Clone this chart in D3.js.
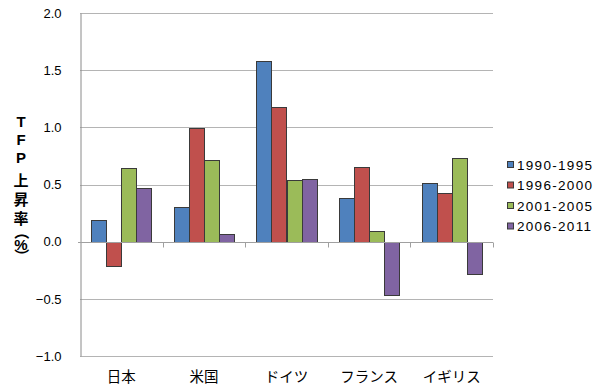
<!DOCTYPE html>
<html><head><meta charset="utf-8">
<script src="https://cdn.jsdelivr.net/npm/d3@7"></script>
<style>
html,body{margin:0;padding:0;background:#fff;}
svg{display:block;}
text{font-family:"Liberation Sans","Noto Sans CJK JP",Arial,sans-serif;fill:#000;}
</style></head>
<body><svg id="chart" width="600" height="392"></svg>
<script>
const categories = ["日本", "米国", "ドイツ", "フランス", "イギリス"];
const seriesNames = ["1990-1995", "1996-2000", "2001-2005", "2006-2011"];
const s1990 = [0.19, 0.30, 1.58, 0.38, 0.51];
const s1996 = [-0.21, 0.99, 1.18, 0.65, 0.43];
const s2001 = [0.64, 0.71, 0.54, 0.09, 0.73];
const s2006 = [0.47, 0.07, 0.55, -0.47, -0.28];
const yTicks = [-1.0, -0.5, 0.0, 0.5, 1.0, 1.5, 2.0];
const yTitle = "TFP上昇率（%）";
const colors = ["#4F81BD", "#C0504D", "#9BBB59", "#8064A2"];

const series = [s1990, s1996, s2001, s2006];
const svg = d3.select("#chart");
const L = 80, R = 493, T = 13, B = 356;

const y = d3.scaleLinear().domain([-1, 2]).range([B, T]);
const x0 = d3.scaleBand().domain(categories).range([L, R]).padding(0);
const x1 = d3.scaleBand().domain(d3.range(seriesNames.length))
  .range([0, x0.bandwidth()]).paddingInner(0).paddingOuter(0.75);

// gridlines
svg.append("g").selectAll("line").data(yTicks).join("line")
  .attr("x1", L).attr("x2", R)
  .attr("y1", d => Math.round(y(d)) + 0.5).attr("y2", d => Math.round(y(d)) + 0.5)
  .attr("stroke", "#b4b4b4").attr("stroke-width", 1);

// y axis
const yAxis = d3.axisLeft(y).tickValues(yTicks).tickFormat(d3.format(".1f")).tickSize(0).tickPadding(19);
const gy = svg.append("g").attr("transform", `translate(${L + 0.5},0)`).call(yAxis);
gy.select(".domain").attr("stroke", "#8a8a8a");
gy.selectAll("text").style("font-size", "13px").attr("fill", "#000");

// bars
const g = svg.append("g");
categories.forEach((c, i) => {
  series.forEach((s, j) => {
    const v = s[i];
    g.append("rect")
      .attr("x", Math.round(x0(c) + x1(j)) + 0.5)
      .attr("y", Math.round(y(Math.max(0, v))) + 0.5)
      .attr("width", Math.round(x1.bandwidth()))
      .attr("height", Math.abs(Math.round(y(v)) - Math.round(y(0))))
      .attr("fill", colors[j])
      .attr("stroke", "#3a3a3a").attr("stroke-width", 1);
  });
});

// zero axis with ticks
const y0 = Math.round(y(0)) + 0.5;
svg.append("line").attr("x1", L - 2).attr("x2", R).attr("y1", y0).attr("y2", y0)
  .attr("stroke", "#a0a0a0");
const bounds = categories.map(c => x0(c)).concat([R]).slice(1);
svg.append("g").selectAll("line").data(bounds).join("line")
  .attr("x1", d => Math.round(d) + 0.5).attr("x2", d => Math.round(d) + 0.5)
  .attr("y1", y0).attr("y2", y0 + 5).attr("stroke", "#a0a0a0");

// x labels
svg.append("g").selectAll("text").data(categories).join("text")
  .attr("x", d => x0(d) + x0.bandwidth() / 2).attr("y", 382)
  .attr("text-anchor", "middle").style("font-size", "14.5px").text(d => d);

// y title, stacked characters
const chars = Array.from(yTitle);
const yPos = [121, 139, 157, 180, 199, 218, 232, 244, 256];
const tg = svg.append("g").style("font-weight", "bold").style("font-size", "15px");
chars.forEach((ch, i) => {
  const cy = yPos[i];
  const t = tg.append("text").attr("text-anchor", "middle").attr("dominant-baseline", "central").text(ch);
  if (ch === "（" || ch === "）") {
    t.attr("transform", `translate(21,${cy}) rotate(90)`);
  } else {
    t.attr("x", 21).attr("y", cy);
  }
});

// legend
const lg = svg.append("g");
seriesNames.forEach((n, j) => {
  const ly = 165 + j * 20.5;
  lg.append("rect").attr("x", 507.5).attr("y", ly - 3.5).attr("width", 6).attr("height", 6)
    .attr("fill", colors[j]).attr("stroke", "#3a3a3a");
  lg.append("text").attr("x", 517).attr("y", ly).attr("dominant-baseline", "central")
    .style("font-size", "13.5px").style("letter-spacing", "1.3px").text(n);
});
</script></body></html>
